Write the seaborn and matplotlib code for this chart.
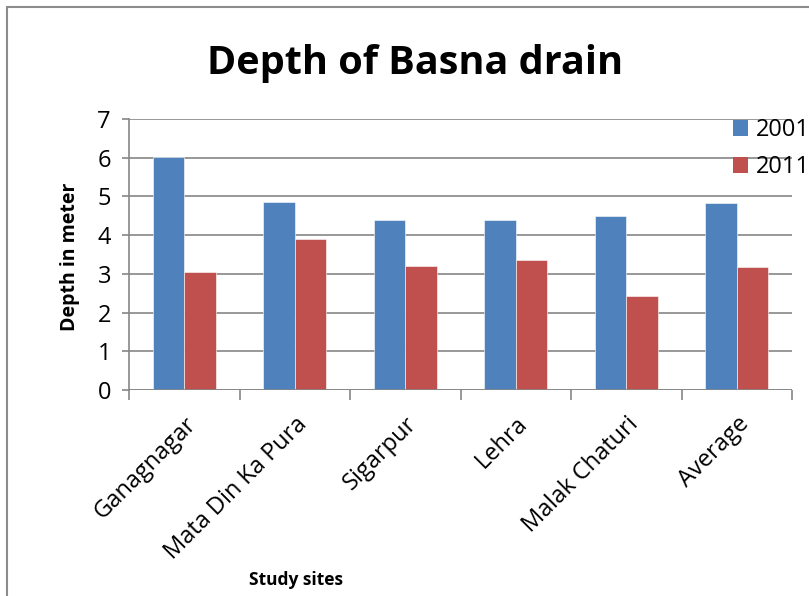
import matplotlib
matplotlib.use("Agg")
import matplotlib.pyplot as plt
import seaborn as sns
import pandas as pd
from matplotlib.patches import Rectangle, Patch

sites = ["Ganagnagar", "Mata Din Ka Pura", "Sigarpur", "Lehra", "Malak Chaturi", "Average"]
depth_2001 = [6.02, 4.85, 4.38, 4.39, 4.50, 4.83]
depth_2011 = [3.05, 3.89, 3.21, 3.37, 2.42, 3.19]
years = ["2001", "2011"]
yticks = [0, 1, 2, 3, 4, 5, 6, 7]

df = pd.DataFrame({
    "site": sites * 2,
    "year": [years[0]] * len(sites) + [years[1]] * len(sites),
    "depth": depth_2001 + depth_2011,
})

sns.set_theme(style="white")
plt.rcParams["font.family"] = ["Open Sans", "DejaVu Sans"]
plt.rcParams["text.color"] = "black"
plt.rcParams["xtick.labelcolor"] = "black"
plt.rcParams["ytick.labelcolor"] = "black"

colors = {"2001": "#4F81BD", "2011": "#C0504D"}
grid_c = "#868686"

fig = plt.figure(figsize=(8.09, 5.96), dpi=100)
fig.patch.set_facecolor("white")
W, H = 809, 596
ax = fig.add_axes([129 / W, 1 - 390 / H, (792 - 129) / W, (390 - 119) / H])

sns.barplot(data=df, x="site", y="depth", hue="year", palette=colors,
            width=0.57, saturation=1, ax=ax, legend=False, errorbar=None)
for p in ax.patches:
    p.set_edgecolor("white")
    p.set_linewidth(0.4)

ax.set_ylim(0, 7)
ax.set_xlim(-0.5, len(sites) - 0.5)
ax.set_yticks(yticks)
ax.set_yticklabels([str(t) for t in yticks], fontsize=17, color="black")
ax.yaxis.grid(True, color=grid_c, linewidth=1.2)
ax.set_axisbelow(True)
for s in ["top", "right", "bottom"]:
    ax.spines[s].set_visible(False)
ax.spines["left"].set_color(grid_c)
ax.spines["left"].set_linewidth(1.2)
ax.axhline(0, color=grid_c, linewidth=1.2, zorder=3)
ax.tick_params(axis="y", which="major", length=5, width=1.2, color=grid_c,
               direction="out", left=True, pad=8)

ax.set_xticks(range(len(sites)))
ax.set_xticklabels(sites, rotation=45, ha="right", rotation_mode="anchor",
                   fontsize=17, color="black")
ax.set_xticks([i - 0.5 for i in range(len(sites) + 1)], minor=True)
ax.tick_params(axis="x", which="major", length=0, pad=16)
ax.tick_params(axis="x", which="minor", length=7, width=1.2, color=grid_c,
               direction="out", bottom=True)
ax.set_xlabel("")
ax.set_ylabel("")

fig.text(415 / W, 1 - 74 / H, "Depth of Basna drain", ha="center",
         va="baseline", fontsize=28.5, fontweight="bold", color="black")
fig.text(70 / W, 1 - 257 / H, "Depth in meter", ha="center", va="center",
         rotation=90, fontsize=14, fontweight="bold", color="black")
fig.text(296 / W, 1 - 580 / H, "Study sites", ha="center", va="center",
         fontsize=12.5, fontweight="bold", color="black")

handles = [Patch(facecolor=colors[y], edgecolor="none", label=y) for y in years]
leg = fig.legend(handles=handles, loc="upper left",
                 bbox_to_anchor=(733 / W, 1 - 118 / H), frameon=False,
                 fontsize=17, handlelength=0.65, handleheight=0.65,
                 handletextpad=0.3, labelspacing=0.55, borderpad=0,
                 borderaxespad=0)
for t in leg.get_texts():
    t.set_color("black")

fig.patches.append(Rectangle((7 / W, -0.2), 1.2, 1.2 - 7 / H,
                             transform=fig.transFigure, fill=False,
                             edgecolor="#8c8c8c", linewidth=1.5))

fig.savefig("out.png", dpi=100)
